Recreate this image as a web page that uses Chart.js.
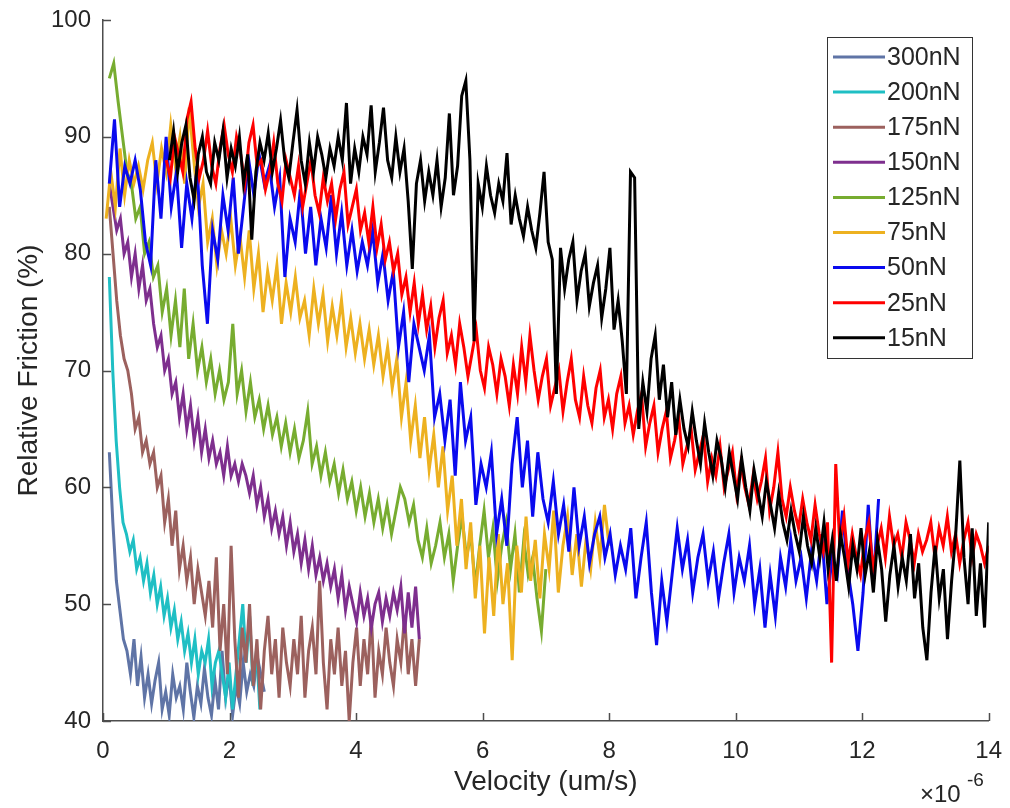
<!DOCTYPE html>
<html>
<head>
<meta charset="utf-8">
<script src="https://cdn.jsdelivr.net/npm/chart.js@4/dist/chart.umd.min.js"></script>
<style>
  html, body { margin: 0; padding: 0; background: #fff; }
  #wrap { width: 1010px; height: 808px; }
</style>
</head>
<body>
<div id="wrap"><canvas id="frictionChart" width="1010" height="808"></canvas></div>
<script>
// loads in legend order
const loads = ['300nN', '200nN', '175nN', '150nN', '125nN', '75nN', '50nN', '25nN', '15nN'];
const colors = ['#5f74a6', '#1fbfc4', '#9c615e', '#7e2f8e', '#77ac30', '#edb120', '#0a0aee', '#ff0000', '#000000'];

// velocity range of each sweep, x 1e-6 um/s  [first, last]
const v300 = [0.1, 2.55];
const v200 = [0.1, 2.48];
const v175 = [0.1, 5.0];
const v150 = [0.1, 5.0];
const v125 = [0.1, 7.0];
const v75 = [0.05, 8.0];
const v50 = [0.1, 12.26];
const v25 = [1.0, 14.0];
const v15 = [1.05, 14.0];

// relative friction (%), one value per sample of the sweep
const f300 = [63, 57, 52, 49.5, 47, 46, 44, 47, 43, 45.5, 42, 44, 41.5, 43.5, 45, 41, 42.5, 40.5, 44, 42,
  43, 41, 45, 42.5, 40.3, 43, 41.5, 44.5, 42, 40.5, 43.5, 41, 46, 42, 44, 40.5, 43, 41.5, 45, 42.5,
  44, 43, 45.5, 44, 42.5];
const f200 = [78, 70, 64, 60, 57, 56, 54.5, 55.5, 53, 54, 52, 53.5, 51, 52.5, 50, 51.5, 49, 50.5, 48, 49.5,
  47, 48.5, 46, 47.5, 45, 47, 44, 46, 45, 47, 43, 45, 46, 44, 42, 45, 41, 44, 47, 50,
  45, 49, 43, 46, 41];
const f175 = [84, 80, 76, 73, 71, 70, 68, 65, 66, 63, 64, 62, 63, 60, 61, 57, 59, 55, 58, 53,
  55, 52, 54, 50, 53, 51, 49, 52, 48, 54, 46, 50, 44, 55, 47, 42, 48, 45, 50, 43,
  47, 41, 46, 49, 44, 47, 42, 48, 45, 43, 47, 44, 49, 42, 46, 48, 44, 52, 45, 41,
  47, 44, 48, 43, 46, 40, 45, 48, 43, 47, 44, 49, 42, 46, 44, 48, 45, 43, 47, 45,
  49, 44, 47, 43, 47];
const f150 = [86, 84, 82, 83, 80, 81, 78, 80, 77, 79, 76, 77, 74, 72, 73, 70, 71, 68, 69, 66,
  68, 65, 67, 64, 66, 63, 65, 62.5, 64, 62, 63, 61, 63.5, 61, 62, 60.5, 62, 61, 59.5, 61,
  58.5, 60, 57.5, 59, 56.5, 58, 56, 57.5, 55, 57, 54.5, 56, 53.5, 55.5, 53, 55, 52.5, 54, 52, 53.5,
  51.5, 53, 50.5, 52.5, 49.5, 51.5, 50, 48.5, 51, 49, 50.5, 48, 50, 51, 48.5, 50.5, 49, 51, 49.5, 51.5,
  47.5, 51, 48, 51.5, 47];
const f125 = [95, 96.3, 93, 90, 87, 86, 83, 84, 80, 81, 78, 79, 75, 77, 73, 76, 72, 77, 71, 74,
  70, 72, 69, 71, 68, 70, 67.5, 69, 74, 68, 70, 66.5, 69, 66, 67.5, 65, 67, 64.5, 66, 63.5,
  65.5, 63, 65, 62.5, 64, 66.5, 62, 63.5, 61, 63, 60.5, 62, 59.5, 61.5, 59, 60.5, 58, 60, 57.5, 59.5,
  57, 59, 56.5, 58.5, 56, 58, 60, 59, 57, 58.5, 55.5, 54, 56.5, 53.5, 55, 57, 54, 56, 52, 55,
  57.5, 54, 56, 51.5, 55, 58, 54, 56.5, 52, 55, 57, 53, 56, 51, 55.5, 52.5, 54, 50.5, 47.7, 53];
const f75 = [83, 87, 84, 89, 85, 88, 86, 87.5, 85.5, 88, 89.5, 86, 89, 87, 91, 87.5, 90, 86, 92.5, 88,
  84, 86, 81, 83, 79, 82, 80, 83, 79, 81.5, 78, 82, 77, 80, 75, 78.5, 76, 79, 74, 77.5,
  75, 78, 74.5, 76, 73, 77, 74, 76.5, 72.5, 75.5, 73, 76, 72, 74.5, 71.5, 74, 71, 73.5, 70.5, 73,
  69.5, 72, 68.5, 71, 66, 69, 64, 67, 62.5, 66, 61.5, 64.5, 60, 63.5, 58, 61, 55, 59, 53, 57,
  50.5, 55, 47.5, 54, 49, 56, 50, 53.5, 45.2, 55, 51, 57.5, 52, 55.5, 50.5, 56, 53, 58, 51, 55,
  57.5, 52.5, 56, 51.5, 55.5, 53, 57, 54, 58.5, 55];
const f50 = [86, 91.5, 84, 87.5, 86, 88, 85.5, 81, 79, 88, 83, 90, 84, 87, 80.5, 86, 83, 87.5, 79, 74,
  82, 79.5, 85, 82, 86.5, 80, 84, 88, 85, 88.5, 86, 87.5, 84, 86.5, 78, 83, 81, 85.5, 80, 84,
  79, 83, 80.5, 85, 80, 83.5, 79, 82, 78.5, 81, 79, 82, 77.5, 80, 76, 78.5, 72, 75, 69, 74,
  72, 70, 73, 66, 68, 64, 67.5, 61, 69, 64, 66, 58.5, 62, 60, 63, 56, 59, 55, 62, 66,
  60, 64, 57.5, 63, 59, 57, 60.5, 56, 58.5, 54.5, 60, 55, 57.5, 53.5, 56, 57.5, 54, 56, 52.5, 55,
  53, 56.5, 50.5, 54, 57, 51, 46.5, 52, 48.5, 52.5, 56.5, 53, 55.5, 51, 54, 56, 52, 54.5, 50.5, 53.5,
  56, 51, 54, 52, 55, 50, 53, 48, 52.5, 49, 54, 51.5, 55.5, 52, 54, 50.5, 54.5, 52, 56, 50,
  54, 52.5, 58, 53, 50, 46, 51, 58.5, 52, 59];
const f25 = [88, 86.5, 90, 88.5, 87, 91.5, 93, 89, 86.5, 88, 90.5, 87.5, 86, 89, 91, 88.5,
  87, 90, 88.5, 86, 89.5, 91, 87.5, 88, 85.5, 87, 89.5, 86, 84.5, 88, 86.5, 85,
  87.5, 84, 86, 88, 85, 83.5, 86.5, 84.5, 86, 83, 85.5, 87, 82.5, 84, 85.5, 82,
  83.5, 81, 84, 80.5, 82.5, 79.5, 81, 78.5, 80, 76.5, 78, 75, 77.5, 74, 76.5, 73.5,
  75.5, 72, 74.5, 76, 71.5, 73, 70.5, 74, 72, 69.5, 71.5, 73.5, 70, 68.5, 72, 70.5,
  68, 71, 69.5, 67, 70.5, 68, 72, 69, 73, 70, 67.5, 69.5, 71, 67, 68.5, 70,
  66.5, 69, 71, 67.5, 66, 69.5, 67, 65.5, 68.5, 70, 66, 67.5, 65, 68, 69.5, 65.5,
  67, 64.5, 66.5, 68, 63.5, 65.5, 67, 63, 65, 66.5, 62.5, 64, 66, 62, 63.5, 65,
  61.5, 63, 64.5, 60.5, 62.5, 61, 63.5, 60, 61.5, 63, 59.5, 62, 60, 58.5, 61, 59,
  60.5, 62.5, 58, 60, 63, 59, 57.5, 60, 58, 56.5, 59, 57, 55.5, 58.5, 56, 54.5,
  57, 45, 62, 55, 57.5, 53.5, 56, 54, 52.5, 55.5, 57, 53, 55, 56.5, 54, 57.5,
  55, 56, 54, 57, 55.5, 53.5, 56, 54.5, 55.5, 57, 54, 56.5, 55, 57.5, 54.5, 56,
  53.5, 55.5, 57, 54, 56, 55, 53.5, 55];
const f15 = [88, 90.5, 87, 89.5, 91, 86.5, 84.6, 88.5, 90, 87, 86, 89.5, 88, 90.5, 86.5, 89,
  87.5, 90, 86, 88.5, 81.2, 87, 89.5, 88, 90.3, 87, 89, 91.4, 88, 86.5, 89.5, 92.3,
  88, 86, 89.5, 87, 90, 88.5, 86.5, 89, 87.5, 90, 88, 92.9, 86, 89, 87, 90,
  88.5, 92.7, 87, 89.5, 92.5, 88, 86.5, 90, 87, 89, 84.5, 78.7, 86, 88, 84.5, 87,
  85, 88, 84, 86.5, 92, 85, 87.5, 93.5, 94.8, 88, 72.5, 86, 84, 87.5, 85, 83.5,
  86, 84.5, 88.6, 82.5, 85, 83, 81.5, 84, 82, 80.5, 83.5, 87, 81, 79.5, 68, 80.5,
  77, 79.5, 81, 76, 78.5, 80, 75.5, 77.5, 79, 74.5, 77, 80.5, 73.5, 76, 72.5, 68,
  87, 86.5, 65, 69, 66.5, 71, 73, 67.5, 70.5, 66, 69, 64.5, 67.5, 65, 63.5, 66.5,
  64, 62, 65.5, 63, 61, 64, 62.5, 60, 63, 61, 59, 62.5, 60, 58, 61.5, 59.5,
  57.5, 60.5, 58.5, 56.5, 59.5, 57, 55.5, 58, 56, 54.5, 57.5, 55, 53.5, 56.5, 54, 57,
  53, 55.5, 52, 56, 54, 51.5, 55, 53, 56.5, 52.5, 54.5, 51, 55.5, 53, 48.5, 52.5,
  55, 51.5, 54, 52, 56, 50.5, 53.5, 48, 45.2, 51, 55, 50.5, 53, 47, 52, 56,
  62.3, 54, 50, 56.5, 49, 53.5, 48, 57];

const sweeps = [f300, f200, f175, f150, f125, f75, f50, f25, f15];
const ranges = [v300, v200, v175, v150, v125, v75, v50, v25, v15];

// pair each friction value with its velocity on the sweep's sampling grid
function toPoints(vals, range) {
  const step = (range[1] - range[0]) / (vals.length - 1);
  return vals.map((f, i) => ({ x: range[0] + i * step, y: f }));
}

const axisColor = '#4d4d4d';
const textColor = '#262626';
Chart.defaults.font.family = '"Liberation Sans", Arial, Helvetica, sans-serif';
Chart.defaults.color = textColor;

// MATLAB-style inward ticks, boxed legend and the x10^-6 exponent
const matlabDecor = {
  id: 'matlabDecor',
  afterDraw(chart) {
    const ctx = chart.ctx;
    const area = chart.chartArea;
    const xs = chart.scales.x, ys = chart.scales.y;
    ctx.save();
    ctx.strokeStyle = axisColor;
    ctx.lineWidth = 1.5;
    ctx.beginPath();
    ys.ticks.forEach(t => {
      const py = Math.round(ys.getPixelForValue(t.value)) + 0.5;
      ctx.moveTo(area.left, py);
      ctx.lineTo(area.left + 8, py);
    });
    xs.ticks.forEach(t => {
      const px = Math.round(xs.getPixelForValue(t.value)) + 0.5;
      ctx.moveTo(px, area.bottom);
      ctx.lineTo(px, area.bottom - 8);
    });
    ctx.stroke();

    // legend
    const bx = 827, by = 37, bw = 145, bh = 321;
    ctx.fillStyle = '#fff';
    ctx.fillRect(bx, by, bw, bh);
    ctx.strokeStyle = '#333';
    ctx.lineWidth = 1;
    ctx.strokeRect(bx + 0.5, by + 0.5, bw, bh);
    ctx.font = '25px "Liberation Sans", Arial, sans-serif';
    ctx.textBaseline = 'middle';
    ctx.textAlign = 'left';
    chart.data.datasets.forEach((ds, i) => {
      const y = by + 20 + i * 35.1;
      ctx.strokeStyle = ds.borderColor;
      ctx.lineWidth = 3;
      ctx.beginPath();
      ctx.moveTo(bx + 6, y);
      ctx.lineTo(bx + 58, y);
      ctx.stroke();
      ctx.fillStyle = textColor;
      ctx.fillText(ds.label, bx + 60, y + 1);
    });

    // exponent of the x axis
    ctx.fillStyle = textColor;
    ctx.textBaseline = 'alphabetic';
    ctx.font = '24px "Liberation Sans", Arial, sans-serif';
    ctx.fillText('\u00d710', 920, 802);
    ctx.font = '19px "Liberation Sans", Arial, sans-serif';
    ctx.fillText('-6', 967, 786);
    ctx.restore();
  }
};

const datasets = loads.map((name, i) => ({
  label: name,
  data: toPoints(sweeps[i], ranges[i]),
  borderColor: colors[i],
  backgroundColor: colors[i],
  borderWidth: 3,
  pointRadius: 0,
  tension: 0,
  fill: false,
  order: loads.length - i   // later loads drawn on top
}));

const frictionChart = new Chart(document.querySelector('#frictionChart'), {
  type: 'line',
  data: { datasets: datasets },
  options: {
    responsive: false,
    animation: false,
    events: [],
    layout: { padding: { top: 20, right: 13, left: 0, bottom: 0 } },
    plugins: {
      legend: { display: false },
      tooltip: { enabled: false },
      title: { display: false }
    },
    scales: {
      x: {
        type: 'linear',
        min: 0,
        max: 14,
        grid: { display: false },
        border: { display: true, color: axisColor, width: 1.5 },
        ticks: { stepSize: 2, padding: 8, color: textColor, font: { size: 24 } },
        title: {
          display: true,
          text: 'Velocity (um/s)',
          color: textColor,
          font: { size: 28 },
          padding: { top: 0, bottom: 9 }
        },
        afterFit(scale) { scale.height = 87; }
      },
      y: {
        min: 40,
        max: 100,
        grid: { display: false },
        border: { display: true, color: axisColor, width: 1.5 },
        ticks: { stepSize: 10, padding: 4, color: textColor, font: { size: 24 } },
        title: {
          display: true,
          text: 'Relative Friction (%)',
          color: textColor,
          font: { size: 28 },
          padding: { top: 12, bottom: 0 }
        },
        afterFit(scale) { scale.width = 103; }
      }
    }
  },
  plugins: [matlabDecor]
});
</script>
</body>
</html>
